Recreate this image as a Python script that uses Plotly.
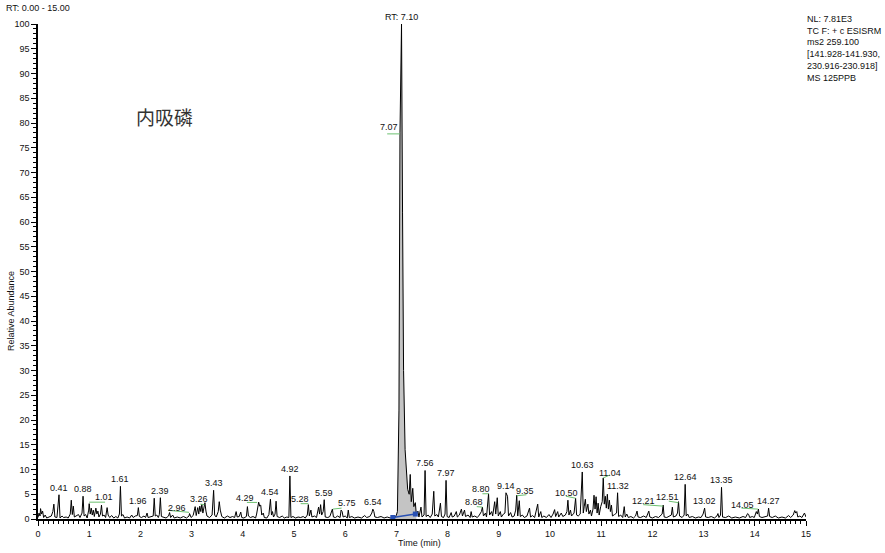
import plotly.graph_objects as go

# ---------------- data ----------------
rt = [0.00, 0.02, 0.04, 0.05, 0.07, 0.09, 0.11, 0.14, 0.17, 0.22, 0.26, 0.29, 0.31, 0.33, 0.37, 0.41, 0.43, 0.47, 0.50, 0.55,
      0.59, 0.63, 0.65, 0.67, 0.69, 0.71, 0.75, 0.79, 0.82, 0.86, 0.88, 0.90, 0.93, 0.96, 0.99, 1.00, 1.02, 1.04, 1.06, 1.08,
      1.10, 1.13, 1.15, 1.17, 1.19, 1.22, 1.24, 1.26, 1.29, 1.32, 1.35, 1.37, 1.40, 1.44, 1.48, 1.52, 1.56, 1.59, 1.61, 1.63,
      1.66, 1.69, 1.74, 1.79, 1.83, 1.86, 1.90, 1.94, 1.96, 1.98, 2.02, 2.07, 2.10, 2.13, 2.15, 2.20, 2.25, 2.27, 2.29, 2.32,
      2.35, 2.37, 2.39, 2.41, 2.45, 2.50, 2.55, 2.57, 2.59, 2.63, 2.66, 2.72, 2.78, 2.84, 2.90, 2.95, 2.96, 2.99, 3.03, 3.05,
      3.07, 3.09, 3.12, 3.14, 3.16, 3.18, 3.20, 3.22, 3.24, 3.26, 3.28, 3.30, 3.35, 3.40, 3.43, 3.45, 3.48, 3.52, 3.54, 3.56,
      3.59, 3.64, 3.70, 3.75, 3.80, 3.84, 3.87, 3.89, 3.93, 3.96, 3.98, 4.02, 4.07, 4.09, 4.11, 4.15, 4.20, 4.25, 4.27, 4.29,
      4.31, 4.33, 4.35, 4.37, 4.40, 4.42, 4.47, 4.51, 4.54, 4.56, 4.58, 4.60, 4.63, 4.65, 4.67, 4.72, 4.77, 4.81, 4.86, 4.90,
      4.92, 4.94, 4.98, 5.03, 5.08, 5.13, 5.18, 5.22, 5.26, 5.28, 5.30, 5.33, 5.35, 5.40, 5.44, 5.48, 5.50, 5.52, 5.54, 5.57,
      5.59, 5.61, 5.66, 5.70, 5.75, 5.77, 5.81, 5.85, 5.90, 5.92, 5.94, 5.96, 6.00, 6.04, 6.06, 6.08, 6.13, 6.18, 6.25, 6.32,
      6.38, 6.42, 6.48, 6.52, 6.54, 6.56, 6.58, 6.63, 6.70, 6.76, 6.82, 6.88, 6.93, 6.97, 7.00, 7.02, 7.05, 7.07, 7.10, 7.12,
      7.14, 7.17, 7.20, 7.22, 7.25, 7.27, 7.29, 7.32, 7.34, 7.37, 7.39, 7.42, 7.44, 7.48, 7.50, 7.54, 7.56, 7.58, 7.62, 7.66,
      7.70, 7.73, 7.75, 7.79, 7.82, 7.86, 7.88, 7.92, 7.95, 7.97, 7.99, 8.03, 8.07, 8.09, 8.13, 8.17, 8.19, 8.23, 8.27, 8.29,
      8.33, 8.35, 8.40, 8.44, 8.46, 8.48, 8.53, 8.58, 8.62, 8.66, 8.68, 8.70, 8.74, 8.76, 8.80, 8.82, 8.86, 8.88, 8.92, 8.94,
      8.97, 8.99, 9.03, 9.05, 9.09, 9.12, 9.14, 9.17, 9.19, 9.23, 9.26, 9.30, 9.33, 9.35, 9.37, 9.40, 9.42, 9.46, 9.50, 9.55,
      9.60, 9.62, 9.66, 9.70, 9.76, 9.78, 9.82, 9.84, 9.88, 9.93, 9.98, 10.02, 10.06, 10.09, 10.11, 10.15, 10.17, 10.22, 10.25, 10.30,
      10.33, 10.35, 10.37, 10.40, 10.42, 10.47, 10.50, 10.52, 10.55, 10.59, 10.63, 10.65, 10.67, 10.69, 10.71, 10.74, 10.76, 10.79, 10.81, 10.84,
      10.86, 10.88, 10.90, 10.92, 10.94, 10.96, 10.99, 11.02, 11.04, 11.06, 11.08, 11.10, 11.12, 11.14, 11.16, 11.18, 11.20, 11.22, 11.26, 11.30,
      11.32, 11.34, 11.38, 11.42, 11.45, 11.47, 11.50, 11.53, 11.58, 11.63, 11.67, 11.70, 11.72, 11.77, 11.83, 11.88, 11.93, 11.95, 12.00, 12.06,
      12.12, 12.16, 12.19, 12.21, 12.23, 12.28, 12.34, 12.37, 12.39, 12.41, 12.46, 12.49, 12.51, 12.53, 12.58, 12.62, 12.64, 12.66, 12.69, 12.72,
      12.78, 12.84, 12.90, 12.95, 12.99, 13.02, 13.04, 13.09, 13.15, 13.21, 13.26, 13.28, 13.30, 13.33, 13.35, 13.37, 13.43, 13.49, 13.55, 13.62,
      13.70, 13.77, 13.82, 13.86, 13.88, 13.90, 13.95, 13.99, 14.03, 14.05, 14.07, 14.09, 14.14, 14.20, 14.25, 14.27, 14.29, 14.34, 14.40, 14.46,
      14.53, 14.60, 14.66, 14.70, 14.75, 14.78, 14.80, 14.82, 14.84, 14.88, 14.92, 14.97, 15.00]

abundance = [0.3, 1.2, 0.6, 2.1, 1.0, 1.6, 0.3, 0.8, 0.2, 0.4, 0.6, 1.5, 3.0, 0.4, 0.3, 4.9, 0.2, 0.6, 0.3, 0.4,
             0.2, 1.0, 3.8, 0.9, 2.6, 0.4, 0.6, 0.9, 0.3, 1.2, 4.6, 0.6, 0.9, 0.2, 1.8, 3.1, 1.0, 2.2, 0.8, 1.8,
             0.5, 2.2, 1.0, 1.6, 0.4, 1.0, 2.8, 0.6, 0.8, 0.3, 2.3, 0.8, 0.3, 0.7, 0.2, 0.5, 0.2, 1.0, 6.6, 0.6,
             0.9, 0.2, 0.4, 0.2, 0.8, 0.3, 0.6, 0.7, 2.3, 0.5, 0.3, 0.6, 0.3, 1.2, 0.3, 0.5, 0.6, 4.2, 0.6, 0.8,
             0.3, 0.9, 4.3, 0.5, 0.3, 0.2, 0.6, 1.3, 0.3, 0.8, 0.2, 0.4, 0.2, 0.5, 0.2, 0.6, 1.1, 0.3, 0.7, 2.0,
             2.5, 0.7, 2.3, 1.0, 2.6, 1.5, 3.0, 1.2, 2.6, 3.3, 1.6, 0.6, 0.3, 0.8, 5.8, 0.8, 0.4, 1.5, 3.5, 1.8,
             0.5, 0.2, 0.6, 0.3, 0.5, 0.3, 1.5, 0.4, 0.5, 1.4, 0.3, 0.2, 0.5, 2.5, 0.6, 0.3, 0.5, 0.2, 1.0, 2.2,
             3.4, 2.6, 2.8, 0.8, 1.2, 0.3, 0.2, 0.9, 4.0, 0.8, 1.5, 0.4, 1.0, 3.6, 0.5, 0.3, 0.6, 0.2, 0.4, 0.3,
             8.7, 0.3, 0.5, 0.2, 0.4, 0.3, 0.5, 0.2, 0.8, 2.9, 0.6, 1.8, 0.4, 0.6, 0.3, 2.4, 1.0, 2.9, 0.8, 1.5,
             3.9, 0.4, 0.3, 0.5, 2.0, 0.4, 0.3, 0.6, 0.3, 1.8, 1.5, 0.4, 0.6, 0.2, 1.8, 0.3, 0.5, 0.2, 0.4, 0.2,
             0.7, 0.3, 0.5, 1.2, 2.0, 1.5, 0.4, 0.3, 0.5, 0.2, 0.4, 0.2, 0.5, 0.3, 0.8, 1.5, 22.0, 78.0, 100.0, 62.0,
             30.0, 14.0, 9.0, 6.0, 5.0, 9.0, 3.5, 6.2, 2.5, 3.3, 0.8, 1.6, 0.4, 2.4, 0.4, 0.8, 9.8, 0.5, 0.8, 0.3,
             1.0, 5.6, 0.6, 0.9, 0.4, 3.2, 0.5, 0.3, 1.0, 7.8, 0.5, 0.3, 1.3, 0.4, 0.6, 1.5, 0.4, 0.8, 2.0, 0.6,
             1.8, 0.5, 0.8, 0.3, 1.5, 0.4, 0.6, 0.3, 0.8, 1.5, 2.4, 0.6, 1.2, 0.4, 5.1, 0.8, 1.5, 0.6, 3.5, 1.0,
             4.3, 0.6, 1.5, 0.4, 1.0, 1.2, 5.3, 4.6, 0.6, 1.3, 0.4, 0.6, 1.8, 4.8, 0.6, 3.7, 0.5, 0.8, 0.3, 0.6,
             2.2, 0.4, 0.7, 0.3, 3.0, 0.4, 1.5, 0.3, 0.6, 0.3, 0.9, 0.3, 1.0, 1.9, 0.5, 1.5, 0.4, 1.2, 0.5, 0.8,
             1.5, 3.8, 0.8, 1.8, 0.6, 1.2, 4.2, 0.8, 0.6, 1.0, 9.5, 1.2, 2.6, 4.0, 1.5, 3.0, 1.0, 1.8, 0.6, 2.0,
             4.8, 2.0, 4.5, 1.2, 3.2, 0.8, 2.5, 3.5, 8.3, 3.0, 4.6, 2.2, 5.0, 2.0, 3.8, 1.5, 2.8, 0.6, 0.9, 1.2,
             5.3, 0.5, 0.8, 0.3, 2.5, 0.4, 1.0, 0.3, 0.5, 0.2, 0.6, 1.6, 0.4, 0.3, 0.6, 0.3, 1.6, 0.4, 0.2, 0.5,
             0.3, 0.6, 1.0, 2.8, 0.4, 0.3, 0.6, 0.8, 2.4, 0.4, 0.6, 1.2, 3.5, 0.6, 0.3, 0.8, 7.0, 0.6, 1.0, 0.3,
             0.5, 0.2, 0.4, 0.3, 1.0, 2.2, 0.4, 0.3, 0.5, 0.2, 0.6, 1.1, 0.3, 0.8, 6.4, 0.4, 0.3, 0.6, 0.2, 0.4,
             0.2, 0.5, 0.3, 1.1, 0.9, 0.3, 0.5, 0.3, 1.5, 1.0, 2.0, 0.5, 0.3, 0.4, 0.6, 2.2, 0.5, 0.3, 0.6, 0.2,
             0.4, 0.2, 0.7, 0.3, 0.8, 1.7, 1.2, 1.5, 0.4, 0.6, 0.3, 1.2, 0.4]

# integrated peak (gray area) and its baseline
peak_start_rt = 6.97
peak_end_rt = 7.39
peak_baseline_rt = [6.93, 7.37]
peak_baseline_y = [0.3, 1.0]

# peak labels drawn directly over their apex
direct_labels = ["0.41", "0.88", "1.61", "1.96", "2.39", "3.43", "4.54", "4.92", "5.59", "6.54",
                 "7.56", "7.97", "9.14", "10.63", "11.32", "12.64", "13.02", "13.35", "14.27"]

# peak labels moved aside, joined to the apex with a leader line
offset_labels = ["1.01", "2.96", "3.26", "4.29", "5.28", "5.75", "7.07", "8.68", "8.80",
                 "9.35", "10.50", "11.04", "12.21", "12.51", "14.05"]

# ---------------- layout of the moved labels (label centre, leader start/end) ----------------
offset_label_pos = {
    "1.01": ((1.29, 4.4), (1.31, 3.4), (1.00, 3.4)),
    "2.96": ((2.72, 2.3), (2.54, 1.75), (2.95, 1.35)),
    "3.26": ((3.15, 4.0), (3.17, 3.0), (3.25, 2.9)),
    "4.29": ((4.04, 4.2), (4.08, 3.35), (4.28, 3.35)),
    "5.28": ((5.12, 4.1), (5.13, 3.1), (5.28, 3.1)),
    "5.75": ((6.04, 3.2), (5.93, 2.2), (5.76, 2.0)),
    "7.07": ((6.85, 79.2), (6.82, 77.8), (7.07, 77.8)),
    "8.68": ((8.51, 3.4), (8.57, 2.5), (8.68, 2.4)),
    "8.80": ((8.65, 6.0), (8.68, 5.1), (8.80, 5.1)),
    "9.35": ((9.52, 5.7), (9.54, 4.9), (9.35, 4.7)),
    "10.50": ((10.32, 5.3), (10.31, 4.6), (10.50, 4.2)),
    "11.04": ((11.17, 9.3), (11.17, 8.9), (11.04, 8.3)),
    "12.21": ((11.82, 3.6), (11.82, 2.9), (12.21, 2.6)),
    "12.51": ((12.30, 4.4), (12.32, 3.6), (12.51, 3.3)),
    "14.05": ((13.76, 2.9), (13.74, 2.2), (14.06, 2.0)),
}

FONT = "Liberation Sans, Arial, sans-serif"
LBL = dict(family=FONT, size=9, color="#111111")

fig = go.Figure()

# gray integrated peak
i0 = rt.index(peak_start_rt)
i1 = rt.index(peak_end_rt)
fig.add_trace(go.Scatter(x=rt[i0:i1 + 1], y=abundance[i0:i1 + 1], mode="lines",
                         line=dict(color="rgba(0,0,0,0)", width=0),
                         fill="tozeroy", fillcolor="#c4c4c4", hoverinfo="skip", showlegend=False))

# chromatogram trace
fig.add_trace(go.Scatter(x=rt, y=abundance, mode="lines",
                         line=dict(color="#000000", width=1), showlegend=False))

# peak baseline
fig.add_trace(go.Scatter(x=peak_baseline_rt, y=peak_baseline_y, mode="lines+markers",
                         line=dict(color="#2850b4", width=1.5),
                         marker=dict(symbol="square", size=5, color="#2850b4"),
                         showlegend=False))

annotations = []
for t in direct_labels:
    v = float(t)
    annotations.append(dict(x=v, y=abundance[rt.index(v)], xref="x", yref="y", text=t,
                            showarrow=False, xanchor="center", yanchor="bottom", yshift=0, font=LBL))

shapes = []
for t in offset_labels:
    (lx, ly), (ax0, ay0), (ax1, ay1) = offset_label_pos[t]
    annotations.append(dict(x=lx, y=ly, xref="x", yref="y", text=t, showarrow=False,
                            xanchor="center", yanchor="middle", font=LBL))
    shapes.append(dict(type="line", xref="x", yref="y", x0=ax0, y0=ay0, x1=ax1, y1=ay1,
                       line=dict(color="#6cc070", width=1)))

# base-peak label
annotations.append(dict(x=7.10, y=100, xref="x", yref="y", text="RT: 7.10", showarrow=False,
                        xanchor="center", yanchor="bottom", yshift=0, font=LBL))

# compound name
annotations.append(dict(x=2.47, y=81.4, xref="x", yref="y", text="内吸磷", showarrow=False,
                        xanchor="center", yanchor="middle",
                        font=dict(family="Noto Sans CJK SC", size=19, color="#333333")))

# axis titles
annotations.append(dict(x=0, y=0.42, xref="paper", yref="paper", text="Relative Abundance",
                        showarrow=False, textangle=-90, xanchor="center", yanchor="middle",
                        xshift=-27, font=dict(family=FONT, size=9, color="#111111")))
annotations.append(dict(x=7.46, y=0, xref="x", yref="paper", text="Time (min)", showarrow=False,
                        xanchor="center", yanchor="middle", yshift=-24,
                        font=dict(family=FONT, size=9, color="#111111")))

# header texts
annotations.append(dict(x=0, y=1, xref="paper", yref="paper", text="RT: 0.00 - 15.00",
                        showarrow=False, xanchor="left", yanchor="middle", xshift=-34, yshift=16,
                        font=dict(family=FONT, size=9, color="#111111")))
annotations.append(dict(x=1, y=1, xref="paper", yref="paper",
                        text="NL: 7.81E3<br>TC F: + c ESISRM<br>ms2 259.100<br>[141.928-141.930,<br>230.916-230.918]<br>MS 125PPB",
                        showarrow=False, xanchor="left", yanchor="top", align="left",
                        xshift=-1, yshift=12, font=dict(family=FONT, size=9, color="#111111")))

fig.update_layout(
    width=885, height=553,
    margin=dict(l=38, r=79, t=24, b=34),
    paper_bgcolor="white", plot_bgcolor="white",
    annotations=annotations, shapes=shapes,
    xaxis=dict(range=[0, 15], showgrid=False, zeroline=False, showline=True, linecolor="black",
               linewidth=1.5, ticks="outside", tickcolor="black", ticklen=5, tickwidth=1,
               tick0=0, dtick=1, tickfont=dict(family=FONT, size=9, color="#111111"),
               minor=dict(ticks="outside", dtick=0.1, tick0=0, ticklen=3, tickcolor="black", tickwidth=1)),
    yaxis=dict(range=[0, 100], showgrid=False, zeroline=False, showline=True, linecolor="black",
               linewidth=1.5, ticks="outside", tickcolor="black", ticklen=5, tickwidth=1,
               tick0=0, dtick=5, tickfont=dict(family=FONT, size=9, color="#111111"),
               minor=dict(ticks="outside", dtick=1, tick0=0, ticklen=3, tickcolor="black", tickwidth=1)),
)

fig.write_html("out.html", config={"displayModeBar": False},
               post_script="document.body.style.margin='0';document.body.style.overflow='hidden';")
